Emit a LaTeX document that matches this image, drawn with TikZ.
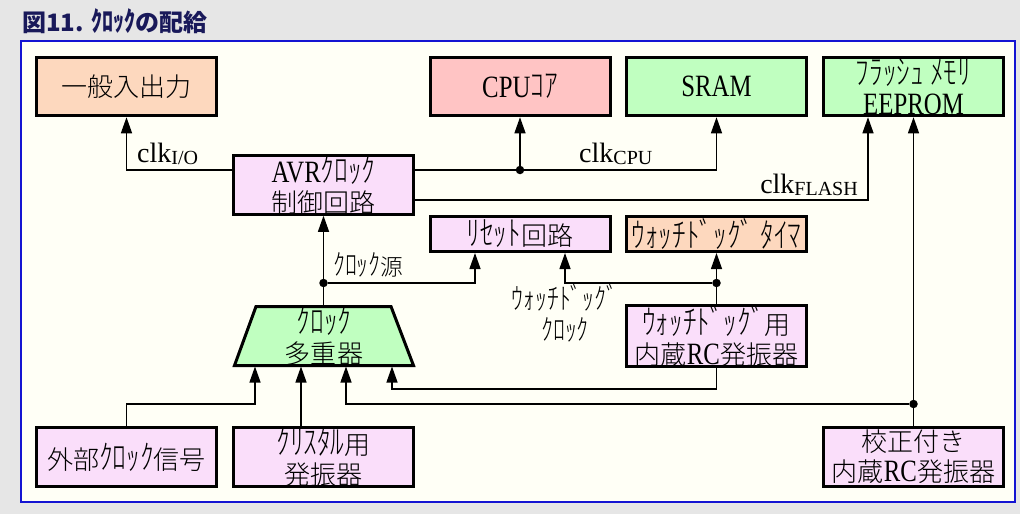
\documentclass[tikz,border=0pt]{standalone}
\usepackage{fontspec}
\setmainfont{Liberation Serif}[FakeStretch=0.8]
\newfontfamily\jp{Noto Sans CJK JP Light}[Scale=0.84]
\newfontfamily\hk{Noto Sans CJK JP Light}[Scale=1.1, FakeStretch=0.8]
\newfontfamily\jpt{Noto Sans CJK JP}
\newfontfamily\hkt{Noto Sans CJK JP}[Scale=1.15, FakeStretch=0.8]
\newfontfamily\lsr{Liberation Serif}
\usetikzlibrary{arrows.meta}

\definecolor{bggray}{RGB}{230,230,230}
\definecolor{panel}{RGB}{255,255,246}
\definecolor{panelblue}{RGB}{20,20,210}
\definecolor{titlec}{RGB}{25,25,90}
\definecolor{peach}{RGB}{253,216,190}
\definecolor{pinkc}{RGB}{255,196,196}
\definecolor{greenc}{RGB}{192,255,192}
\definecolor{lav}{RGB}{250,222,250}

\newcommand\boxfont{\fontsize{31}{30}\selectfont}
\newcommand\lblfont{\fontsize{27}{26}\selectfont}
% clock signal name with a subscript
\newcommand\clksub[1]{{\lsr\fontsize{28}{28}\selectfont clk}\raisebox{-2pt}{\lsr\fontsize{20}{20}\selectfont #1}}

\begin{document}
\begin{tikzpicture}[x=1pt,y=-1pt,
  box/.style={draw=black, line width=3pt, align=center, inner sep=0pt,
    minimum width=180pt, minimum height=58.5pt, font=\boxfont},
  arr/.style={line width=1.3pt, -{Triangle[length=16pt,width=11pt]}},
  dot/.style={circle, fill=black, inner sep=0pt, minimum size=8.5pt},
  lbl/.style={inner sep=0pt, font=\lblfont}]

% background and panel
\fill[bggray] (0,0) rectangle (1020,514);
\draw[panelblue, line width=2pt, fill=panel] (21,41) rectangle (1015,502);
\node[anchor=base west, inner sep=0pt, text=titlec,
  font=\bfseries\fontsize{24}{24}\selectfont] (title) at (22,31)
  {{\jpt 図11. }{\hkt ｸﾛｯｸ}{\jpt の配給}};

% blocks
\node[box, fill=peach] (IO) at (126.5,86.5) {\jp 一般入出力};
\node[box, fill=pinkc] (CPU) at (520,86.5) {CPU{\hk ｺｱ}};
\node[box, fill=greenc] (SRAM) at (716.5,86.5) {SRAM};
\node[box, fill=greenc] (MEM) at (913.5,86.5) {{\hk ﾌﾗｯｼｭ ﾒﾓﾘ}\\EEPROM};
\node[box, fill=lav] (AVR) at (323.5,185) {AVR{\hk ｸﾛｯｸ}\\{\jp 制御回路}};
\node[box, fill=lav, minimum height=35pt] (RST) at (520,234) {{\hk ﾘｾｯﾄ}{\jp 回路}};
\node[box, fill=peach, minimum height=35pt] (WDT) at (716.5,234) {\hk ｳｫｯﾁﾄﾞｯｸﾞ ﾀｲﾏ};

% clock multiplexer (trapezoid)
\draw[line width=3pt, fill=greenc] (256,306.5) -- (391,306.5) -- (413.5,365.5) -- (234.5,365.5) -- cycle;
\node[inner sep=0pt, align=center, font=\boxfont] (MUX) at (324,336) {{\hk ｸﾛｯｸ}\\{\jp 多重器}};
\coordinate (mo) at (323.5,306.5);
\coordinate (mi1) at (255,366.5);
\coordinate (mi2) at (301,366.5);
\coordinate (mi3) at (346,366.5);
\coordinate (mi4) at (392,366.5);

\node[box, fill=lav] (WDO) at (716.5,336) {{\hk ｳｫｯﾁﾄﾞｯｸﾞ}{\jp 用}\\{\jp 内蔵}RC{\jp 発振器}};
\node[box, fill=lav] (EXT) at (126.5,457) {{\jp 外部}{\hk ｸﾛｯｸ}{\jp 信号}};
\node[box, fill=lav] (XTL) at (323.5,457) {{\hk ｸﾘｽﾀﾙ}{\jp 用}\\{\jp 発振器}};
\node[box, fill=lav] (CAL) at (913.5,457) {{\jp 校正付き}\\{\jp 内蔵}RC{\jp 発振器}};

% bus levels
\coordinate (busC) at (0,170);
\coordinate (busF) at (0,200);
\coordinate (busS) at (0,283);
\coordinate (busW) at (0,389);
\coordinate (busL) at (0,404);

% clock distribution from the controller
\draw[arr] (AVR.west |- busC) -| (IO.south);
\draw[arr] (AVR.east |- busC) -| (SRAM.south);
\node[dot] (dcpu) at (CPU.south |- busC) {};
\draw[arr] (dcpu) -- (CPU.south);
\draw[arr] (AVR.east |- busF) -| ([xshift=-45.5pt]MEM.south);

\node[lbl, anchor=base west] (lio) at (137,162) {\clksub{I/O}};
\node[lbl, anchor=base west] (lcpu) at (579,162) {\clksub{CPU}};
\node[lbl, anchor=base east] (lfl) at (858,193) {\clksub{FLASH}};

% clock source
\draw[arr] (mo) -- (AVR.south);
\node[dot] (dsrc) at (mo |- busS) {};
\draw[arr] (dsrc) -| ([xshift=-45pt]RST.south);
\node[lbl, anchor=base west] (lsrc) at (333,275) {{\hk ｸﾛｯｸ}{\jp 源}};

% watchdog clock
\draw[arr] (WDO.north) -- (WDT.south);
\node[dot] (dwd) at (WDO.north |- busS) {};
\draw[arr] (dwd) -| ([xshift=45pt]RST.south);
\node[lbl, anchor=base] (lwd1) at (565,309) {\hk ｳｫｯﾁﾄﾞｯｸﾞ};
\node[lbl, anchor=base] (lwd2) at (565,340) {\hk ｸﾛｯｸ};

% multiplexer inputs
\draw[arr] (EXT.north) |- (mi1 |- busL) -- (mi1);
\draw[arr] (XTL.north -| mi2) -- (mi2);
\draw[arr] (CAL.north) -- (MEM.south);
\node[dot] (dcal) at (CAL.north |- busL) {};
\draw[arr] (dcal) -| (mi3);
\draw[arr] (WDO.south) |- (mi4 |- busW) -- (mi4);

\end{tikzpicture}
\end{document}
